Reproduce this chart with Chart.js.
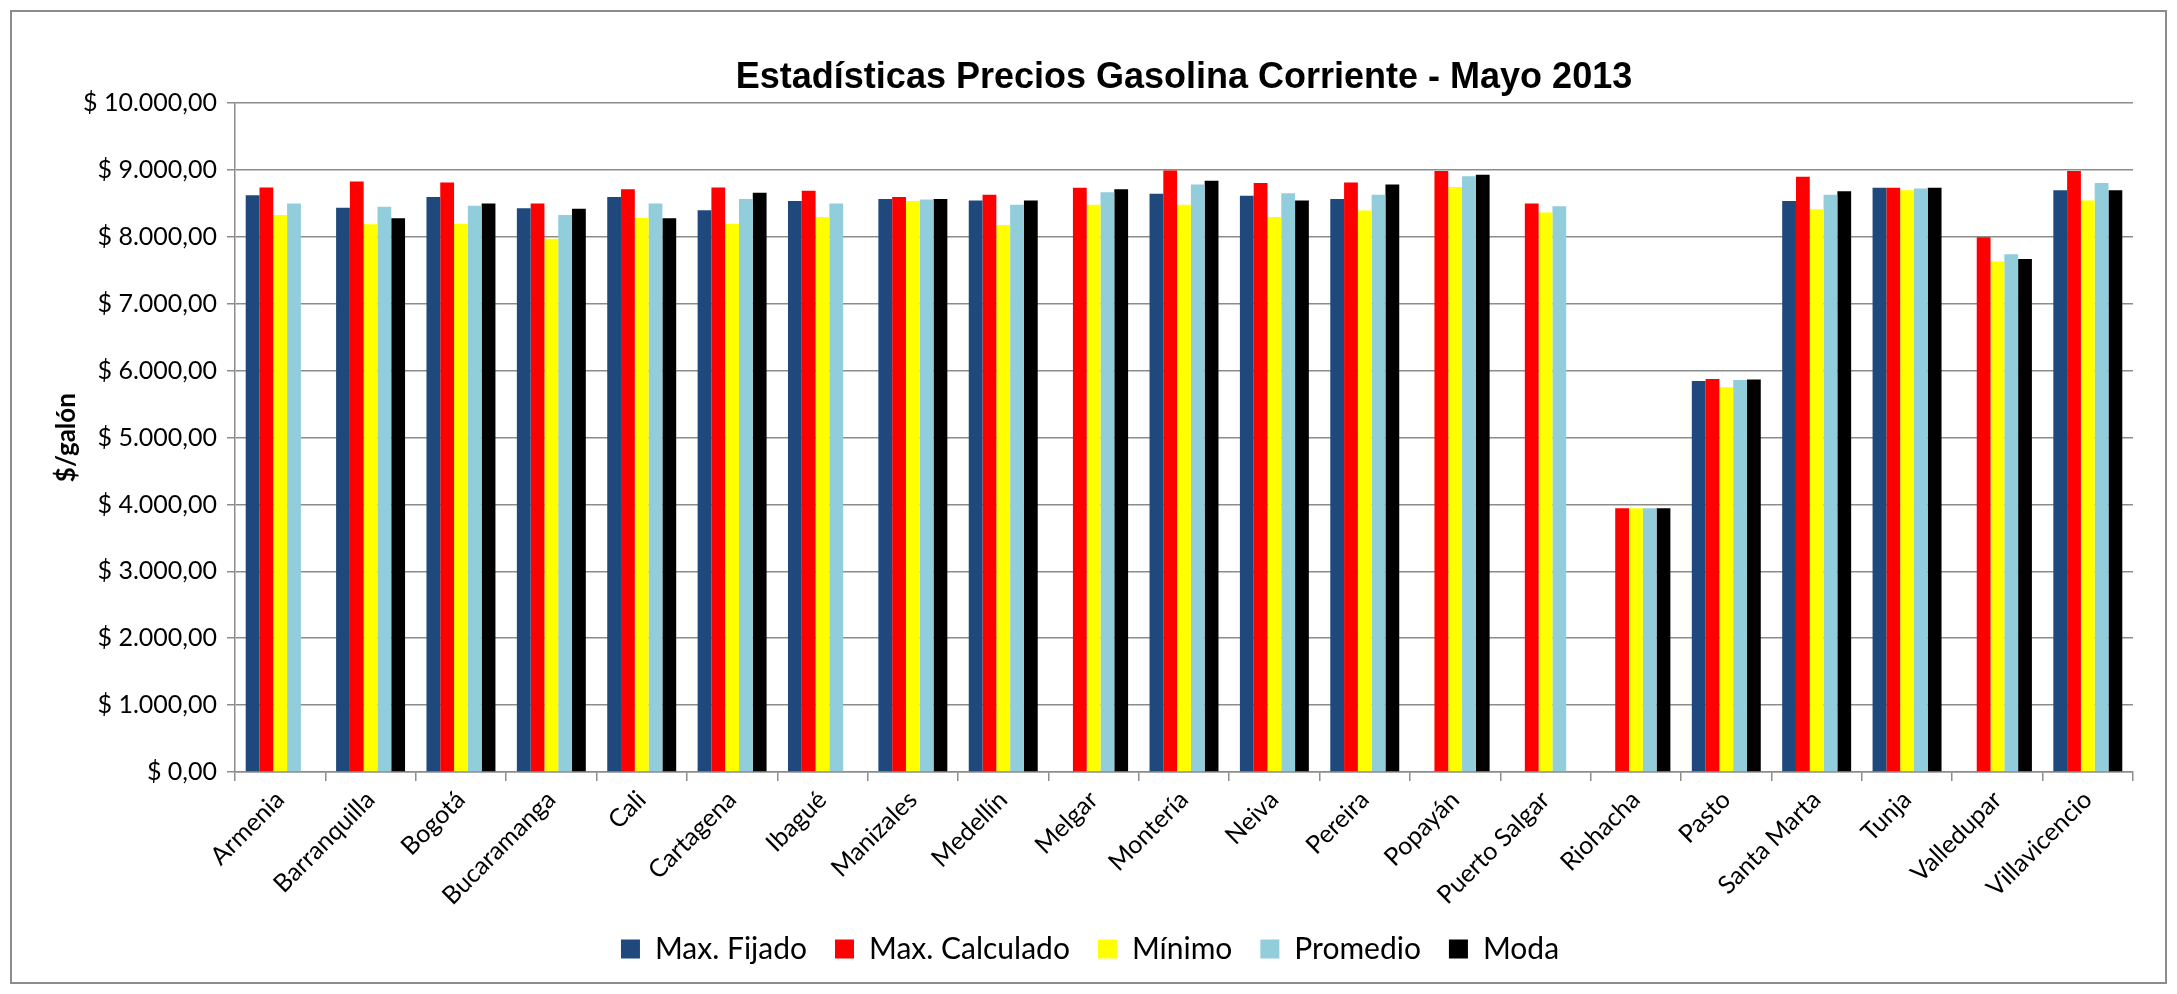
<!DOCTYPE html>
<html>
<head>
<meta charset="utf-8">
<script src="https://cdn.jsdelivr.net/npm/chart.js@4.4.0/dist/chart.umd.min.js"></script>
<style>
  html, body { margin: 0; padding: 0; background: #fff; }
  #wrap { position: relative; width: 2177px; height: 994px; }
</style>
</head>
<body>
<div id="wrap"><canvas id="chart" width="2177" height="994"></canvas></div>
<script>
// Ciudades (eje X)
const cities = ["Armenia", "Barranquilla", "Bogotá", "Bucaramanga", "Cali", "Cartagena", "Ibagué",
  "Manizales", "Medellín", "Melgar", "Montería", "Neiva", "Pereira", "Popayán", "Puerto Salgar",
  "Riohacha", "Pasto", "Santa Marta", "Tunja", "Valledupar", "Villavicencio"];

// Precios $/galón (null = sin dato)
const maxFijado = [8625, 8437, 8596, 8430, 8596, 8401, 8538, 8567, 8546, null, 8647,
  8618, 8567, null, null, null, 5847, 8538, 8734, null, 8698];
const maxCalculado = [8741, 8828, 8813, 8502, 8712, 8741, 8690, 8596, 8632, 8734, 8994,
  8806, 8813, 8987, 8502, 3944, 5876, 8900, 8734, 7996, 8987];
const minimo = [8328, 8191, 8198, 7974, 8285, 8198, 8299, 8538, 8177, 8480, 8480,
  8299, 8394, 8748, 8365, 3944, 5753, 8415, 8698, 7634, 8546];
const promedio = [8502, 8452, 8466, 8328, 8502, 8567, 8502, 8560, 8480, 8669, 8784,
  8654, 8632, 8907, 8459, 3944, 5861, 8632, 8726, 7742, 8806];
const moda = [null, 8278, 8502, 8423, 8278, 8661, null, 8567, 8546, 8712, 8842,
  8546, 8784, 8929, null, 3944, 5868, 8683, 8734, 7670, 8698];

const seriesNames = ["Max. Fijado", "Max. Calculado", "Mínimo", "Promedio", "Moda"];
const seriesColors = ["#1F497D", "#FF0000", "#FFFF00", "#92CDDC", "#000000"];
const seriesData = [maxFijado, maxCalculado, minimo, promedio, moda];

// formato "$ 10.000,00"
function money(v) {
  const parts = Number(v).toFixed(2).split(".");
  return "$ " + parts[0].replace(/\B(?=(\d{3})+$)/g, ".") + "," + parts[1];
}

const gridColor = "#8c8c8c";

// marco gris alrededor de todo el gráfico
const frame = {
  id: "frame",
  beforeDraw(chart) {
    const c = chart.ctx;
    c.save();
    c.strokeStyle = gridColor;
    c.lineWidth = 2;
    c.strokeRect(11, 11, 2155, 972);
    c.restore();
  }
};

new Chart(document.getElementById("chart").getContext("2d"), {
  type: "bar",
  data: {
    labels: cities,
    datasets: seriesNames.map((name, i) => ({
      label: name,
      data: seriesData[i],
      backgroundColor: seriesColors[i],
      borderWidth: 0,
      barPercentage: 1.0,
      categoryPercentage: 0.763,
    })),
  },
  options: {
    responsive: false,
    animation: false,
    layout: { padding: { left: 47, right: 44, top: 50, bottom: 20 } },
    plugins: {
      title: {
        display: true,
        fullSize: false,
        text: "Estadísticas Precios Gasolina Corriente - Mayo 2013",
        color: "#000",
        font: { family: "'Liberation Sans', Arial, sans-serif", size: 36, weight: "bold" },
        padding: { top: 6, bottom: 4 },
      },
      legend: {
        position: "bottom",
        labels: {
          color: "#000",
          font: { family: "Lato, sans-serif", size: 30 },
          boxWidth: 19,
          boxHeight: 19,
          padding: 28,
        },
      },
      tooltip: { enabled: false },
    },
    scales: {
      x: {
        grid: { drawOnChartArea: false, drawTicks: true, tickLength: 9, color: gridColor, lineWidth: 1.5 },
        border: { color: gridColor, width: 1.5 },
        ticks: {
          color: "#000",
          font: { family: "Lato, sans-serif", size: 25 },
          maxRotation: 45,
          minRotation: 45,
          autoSkip: false,
          padding: 4,
        },
        afterFit: (s) => { s.height = 134; },
      },
      y: {
        min: 0,
        max: 10000,
        ticks: {
          stepSize: 1000,
          color: "#000",
          font: { family: "Lato, sans-serif", size: 25 },
          padding: 10,
          callback: (v) => money(v),
        },
        grid: { color: gridColor, lineWidth: 1.5, tickLength: 8 },
        border: { color: gridColor, width: 1.5 },
        title: {
          display: true,
          text: "$/galón",
          color: "#000",
          font: { family: "Lato, sans-serif", size: 26, weight: "bold" },
          padding: { top: 4, bottom: 4 },
        },
        afterFit: (s) => { s.width = 188; },
      },
    },
  },
  plugins: [frame],
});
</script>
</body>
</html>
